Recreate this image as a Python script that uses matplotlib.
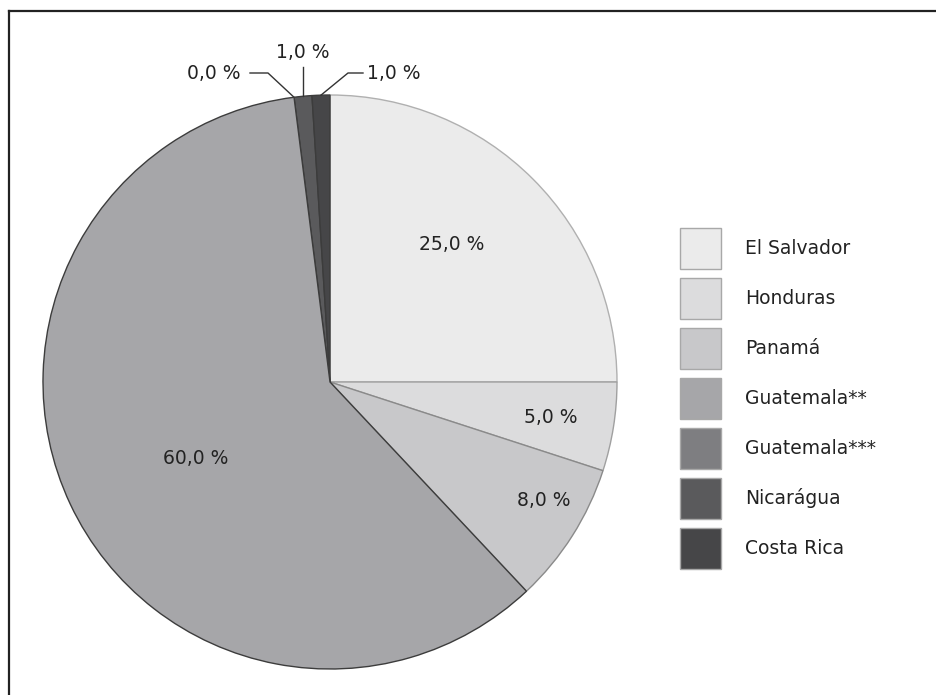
import numpy as np
import matplotlib
matplotlib.use("Agg")
import matplotlib.pyplot as plt
from matplotlib.lines import Line2D
from matplotlib.patches import Rectangle

categories = ["El Salvador", "Honduras", "Panamá", "Guatemala**", "Guatemala***", "Nicarágua", "Costa Rica"]
values = [25.0, 5.0, 8.0, 60.0, 0.0, 1.0, 1.0]
colors = ["#ebebeb", "#dcdcdd", "#c8c8ca", "#a6a6a9", "#7e7e81", "#5a5a5c", "#464648"]
edges = ["#b0b0b0", "#a0a0a0", "#8a8a8a", "#3c3c3c", "#3c3c3c", "#3c3c3c", "#3c3c3c"]

W, H = 937, 695
fig = plt.figure(figsize=(W / 100, H / 100), dpi=100)
plt.rcParams['font.family'] = ['DejaVu Sans']

cx, cy, R = 330, 382, 287
ax = fig.add_axes([(cx - R) / W, (H - cy - R) / H, 2 * R / W, 2 * R / H])
wedges, _ = ax.pie(values, colors=colors, startangle=90, counterclock=False,
                   radius=1.0, wedgeprops=dict(linewidth=1.0))
for w, ec in zip(wedges, edges):
    w.set_edgecolor(ec)
wedges[3].set_zorder(3)
ax.set_xlim(-1, 1)
ax.set_ylim(-1, 1)
ax.set_aspect('equal')
ax.axis('off')

def fmt(v):
    return f"{v:.1f}".replace(".", ",") + " %"

FS = 13.5
tc = "#222222"

inner = {0: (0.64, 3.5), 1: (0.78, 0.0), 2: (0.85, 3.4), 3: (0.54, 4.4)}
for i, (rf, off) in inner.items():
    w = wedges[i]
    mid = np.deg2rad((w.theta1 + w.theta2) / 2 + off)
    ax.text(rf * np.cos(mid), rf * np.sin(mid), fmt(values[i]), ha='center', va='center',
            fontsize=FS, color=tc)

def px(x, y):
    return (x - cx) / R, (cy - y) / R

lc = "#333333"
w = wedges[4]
a = np.deg2rad((w.theta1 + w.theta2) / 2)
tip = (np.cos(a), np.sin(a))
e1 = px(268, 73); e2 = px(250, 73)
ax.plot([tip[0], e1[0], e2[0]], [tip[1], e1[1], e2[1]], color=lc, lw=1.0, clip_on=False)
t = px(241, 73)
ax.text(t[0], t[1], fmt(values[4]), ha='right', va='center', fontsize=FS, color=tc)

w = wedges[5]
a = np.deg2rad((w.theta1 + w.theta2) / 2)
tip = (np.cos(a), np.sin(a))
e1 = (tip[0], px(0, 67)[1])
ax.plot([tip[0], e1[0]], [tip[1], e1[1]], color=lc, lw=1.0, clip_on=False)
t = px(0, 52)
ax.text(tip[0], t[1], fmt(values[5]), ha='center', va='center', fontsize=FS, color=tc)

w = wedges[6]
a = np.deg2rad((w.theta1 + w.theta2) / 2)
tip = (np.cos(a), np.sin(a))
e1 = px(348, 73); e2 = px(363, 73)
ax.plot([tip[0], e1[0], e2[0]], [tip[1], e1[1], e2[1]], color=lc, lw=1.0, clip_on=False)
t = px(367, 73)
ax.text(t[0], t[1], fmt(values[6]), ha='left', va='center', fontsize=FS, color=tc)

# manual legend (pixel layout)
bx, by0, bs, pitch, tx = 680, 228, 41, 50, 745
for i, (lab, col) in enumerate(zip(categories, colors)):
    top = by0 + pitch * i
    fig.add_artist(Rectangle((bx / W, 1 - (top + bs) / H), bs / W, bs / H,
                             facecolor=col, edgecolor="#a8a8a8", linewidth=1.0,
                             transform=fig.transFigure))
    fig.text(tx / W, 1 - (top + bs / 2) / H, lab, ha='left', va='center',
             fontsize=FS, color=tc)

fig.add_artist(Line2D([9 / W, 1.0], [1 - 11 / H, 1 - 11 / H], color="#222222", lw=1.6,
                      transform=fig.transFigure))
fig.add_artist(Line2D([9 / W, 9 / W], [0, 1 - 11 / H], color="#222222", lw=1.6,
                      transform=fig.transFigure))

fig.savefig("out.png", dpi=100, facecolor="white")
